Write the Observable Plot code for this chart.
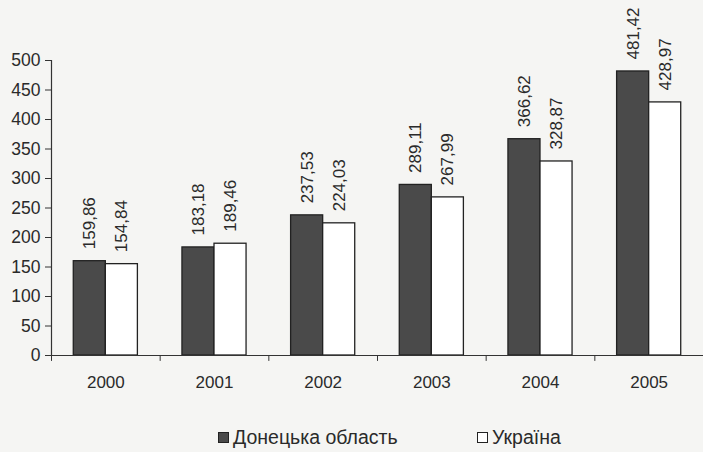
<!DOCTYPE html>
<html><head><meta charset="utf-8">
<script src="https://cdn.jsdelivr.net/npm/d3@7"></script>
<script src="https://cdn.jsdelivr.net/npm/@observablehq/plot@0.6"></script>
<style>
body{margin:0;background:#f5f5f3;font-family:"Liberation Sans",Arial,sans-serif;}
#chart svg{display:block}
#legend{position:relative;height:37px;width:703px;font-size:19.5px;color:#2a2a2a}
.item{position:absolute;top:11px;display:flex;align-items:center;white-space:nowrap}
.sw{width:11px;height:11px;border:1px solid #222;margin-right:4px;box-sizing:border-box}
</style></head><body><div id="chart"></div><div id="legend"></div>
<script>
const years = ["2000","2001","2002","2003","2004","2005"];
const donetsk = [159.86, 183.18, 237.53, 289.11, 366.62, 481.42];
const ukraine = [154.84, 189.46, 224.03, 267.99, 328.87, 428.97];
const series = ["Донецька область","Україна"];
const yTicks = [0,50,100,150,200,250,300,350,400,450,500];
const colors = ["#4a4a4a","#ffffff"];

const fmt = v => v.toFixed(2).replace(".", ",");
const rows = years.flatMap((y,i)=>[
  {i, year:y, s:0, v:donetsk[i]},
  {i, year:y, s:1, v:ukraine[i]}
]);
const bw = 0.295;

const chart = Plot.plot({
  width:703, height:415,
  marginLeft:51, marginRight:0, marginTop:60, marginBottom:60,
  style:{background:"transparent", fontFamily:"'Liberation Sans',Arial,sans-serif", fontSize:"17px", color:"#2a2a2a"},
  x:{domain:[0, years.length], axis:null},
  y:{domain:[0,500], axis:null},
  marks:[
    Plot.rectY(rows, {
      x1: d => d.i + 0.5 - (d.s===0 ? bw : 0),
      x2: d => d.i + 0.5 + (d.s===1 ? bw : 0),
      y1: 0, y2: "v",
      fill: d => colors[d.s], stroke:"#222", strokeWidth:1.3
    }),
    Plot.text(rows, {
      x: d => d.i + 0.5 + (d.s===0 ? -bw/2 : bw/2),
      y: "v", text: d => fmt(d.v),
      rotate:-90, textAnchor:"start", dy:-12, fontSize:17, fill:"#2a2a2a"
    }),
    Plot.axisY({ticks:yTicks, tickSize:6, tickPadding:5, label:null, fontSize:17.5, stroke:"#333"}),
    Plot.ruleX([0], {y1:0, y2:500, stroke:"#333", strokeWidth:1.2}),
    Plot.ruleY([0], {stroke:"#333", strokeWidth:1.2}),
    Plot.ruleX(d3.range(years.length+1), {y1:0, y2:-10, stroke:"#333"}),
    Plot.axisX({ticks: years.map((_,i)=>i+0.5), tickFormat: v => years[Math.floor(v)], tickSize:0, tickPadding:20, label:null, fontSize:17})
  ]
});
document.getElementById("chart").append(chart);

const lg = document.getElementById("legend");
const pos = [218, 477];
series.forEach((s,k)=>{
  const it = document.createElement("div");
  it.className="item"; it.style.left = pos[k]+"px";
  const sw = document.createElement("span");
  sw.className="sw"; sw.style.background = colors[k];
  it.append(sw, document.createTextNode(s));
  lg.append(it);
});
</script></body></html>
